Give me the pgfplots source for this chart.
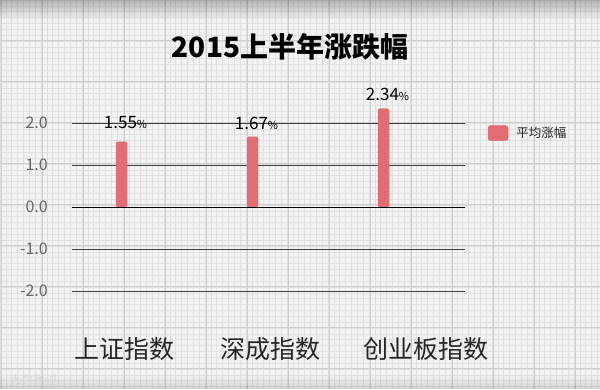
\documentclass[border=0pt]{standalone}
\usepackage{pgfplots}
\pgfplotsset{compat=1.18}
\usepackage{pgfplotstable}
\usepackage{fontspec}
\setmainfont{Noto Sans CJK SC}
\usetikzlibrary{fadings}
\definecolor{barcol}{RGB}{226,107,116}
\definecolor{bgcol}{RGB}{243,243,243}
\definecolor{minorcol}{RGB}{224,224,224}
\definecolor{majorcol}{RGB}{206,206,206}
\pgfplotstableread{
x y dy
0 1.55 19
1 1.67 13
2 2.34 14
}\datatable
\begin{document}
\begin{tikzpicture}[x=1pt,y=1pt]
\useasboundingbox (0,0) rectangle (600,389);
% background paper
\fill[bgcol] (0,0) rectangle (600,389);
\begin{scope}
\clip (0,0) rectangle (600,389);
\foreach \i in {0,...,105} {
  \draw[minorcol, line width=0.5pt] ({\i*41/7},0) -- ({\i*41/7},389);
}
\foreach \i in {0,...,68} {
  \draw[minorcol, line width=0.5pt] (0,{389-\i*41/7}) -- (600,{389-\i*41/7});
}
\foreach \i in {0,...,15} {
  \draw[majorcol, line width=0.9pt] ({1+\i*41},0) -- ({1+\i*41},389);
}
\foreach \i in {0,...,10} {
  \draw[majorcol, line width=0.9pt] (0,{389-(\i*41-1)}) -- (600,{389-(\i*41-1)});
}
\fill[black, opacity=0.25, path fading=south] (0,369) rectangle (600,389);
\fill[black, opacity=0.12, path fading=north] (0,0) rectangle (600,14);
\end{scope}
% title
\node[font=\fontsize{28}{30}\selectfont\bfseries, text=black] at (290,342) {2015上半年涨跌幅};
% watermark
\node[font=\fontsize{12}{12}\selectfont, text=white!70!gray, anchor=west] at (6,9) {大数跨说};
\begin{axis}[
  at={(72pt,98pt)}, anchor=south west,
  scale only axis, width=393pt, height=168pt,
  ybar, bar width=11pt,
  xmin=-0.378, xmax=2.622,
  ymin=-2, ymax=2,
  clip=false,
  /pgf/number format/assume math mode=true,
  axis line style={draw=none},
  tick style={draw=none},
  ytick={-2,-1,0,1,2},
  yticklabels={-2.0,-1.0,0.0,1.0,2.0},
  yticklabel style={anchor=east, inner sep=0pt, xshift=-24pt, font=\fontsize{16}{16}\selectfont, text=black!60},
  xtick={0.023,1.134,2.324},
  xticklabels={上证指数,深成指数,创业板指数},
  xticklabel style={anchor=center, inner sep=0pt, yshift=-54pt, font=\fontsize{25}{25}\selectfont, text=black!85},
  ymajorgrids,
  major grid style={black!75, line width=0.8pt},
  legend style={at={(rel axis cs:1.05,0.94)}, anchor=west, draw=none, fill=none,
    font=\fontsize{12.5}{13}\selectfont, text=black!85},
  legend cell align=left,
]
\addplot[fill=barcol, draw=barcol, rounded corners=1.5pt, bar shift=0pt,
  legend image code/.code={\fill[barcol, rounded corners=2.5pt] (0pt,-7.5pt) rectangle (20pt,7.5pt); \path (26pt,0pt);},
  visualization depends on={\thisrow{dy} \as \labdy},
  nodes near coords={\pgfmathprintnumber[fixed,precision=2,fixed zerofill,assume math mode=true]{\pgfplotspointmeta}{\fontsize{11}{11}\selectfont\%}},
  every node near coord/.append style={anchor=center, yshift=\labdy pt, xshift=4pt, font=\fontsize{17}{17}\selectfont, text=black}
] table[x=x,y=y] {\datatable};
\addlegendentry{平均涨幅}
\draw[black, line width=1pt] (axis cs:-0.378,0) -- (axis cs:2.622,0);
\end{axis}
\end{tikzpicture}
\end{document}
